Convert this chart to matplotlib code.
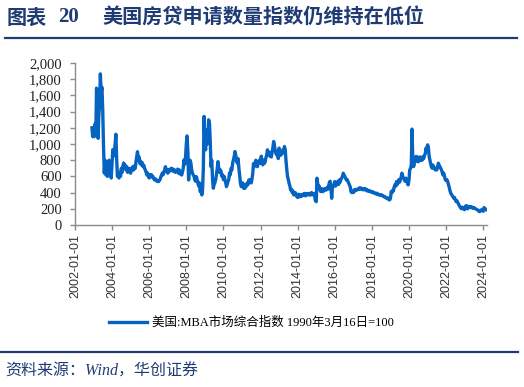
import numpy as np
import pandas as pd
import matplotlib
matplotlib.use('Agg')
import matplotlib.pyplot as plt
import matplotlib.dates as mdates
from matplotlib.lines import Line2D

# MBA market composite index at ~semimonthly steps (1st / 15th)
start_date = '2002-12-01'
index_values = [
    # 2002 (Dec)
    1200, 1090,
    # 2003
    1180, 1090, 1250, 1150, 1690, 1450, 1070, 1350, 1500, 1865, 1640, 1700,
    1420, 1000, 640, 800, 620, 780, 600, 700, 800, 620, 700, 580,
    # 2004
    760, 930, 850, 900, 1000, 1120, 800, 600, 640, 580, 650, 600,
    700, 650, 720, 765, 700, 740, 680, 720, 650, 680, 700, 660,
    # 2005
    640, 700, 680, 720, 680, 730, 700, 780, 850, 905, 800, 840,
    760, 790, 740, 770, 720, 740, 700, 680, 650, 620, 640, 600,
    # 2006
    580, 620, 600, 620, 590, 600, 570, 556, 570, 560, 540, 550,
    535, 545, 560, 590, 617, 640, 620, 650, 680, 720, 690, 660,
    # 2007
    640, 680, 660, 690, 680, 700, 670, 690, 660, 680, 650, 670,
    660, 690, 640, 680, 630, 660, 617, 650, 700, 803, 750, 820,
    # 2008
    1000, 1100, 900, 556, 700, 800, 760, 680, 640, 620, 600, 560,
    540, 597, 560, 520, 480, 520, 412, 450, 371, 430, 700, 1340,
    # 2009
    1000, 928, 1175, 1000, 1100, 1299, 1250, 1050, 721, 800, 560, 454,
    500, 520, 560, 618, 700, 783, 700, 650, 680, 659, 600, 620,
    # 2010
    560, 600, 556, 520, 474, 500, 540, 560, 643, 620, 700, 680,
    766, 800, 850, 907, 860, 800, 763, 820, 700, 620, 520, 474,
    # 2011
    480, 520, 454, 470, 454, 500, 480, 520, 500, 556, 540, 560,
    520, 560, 640, 760, 721, 750, 800, 740, 720, 780, 760, 804,
    # 2012
    760, 850, 780, 742, 800, 760, 780, 830, 860, 928, 880, 900,
    850, 880, 840, 900, 960, 1031, 980, 920, 880, 866, 900, 820,
    # 2013
    950, 880, 860, 900, 880, 928, 900, 969, 930, 800, 680, 600,
    560, 516, 480, 433, 440, 400, 420, 371, 390, 400, 371, 350,
    # 2014
    340, 380, 350, 371, 350, 370, 360, 380, 371, 390, 360, 380,
    371, 390, 380, 370, 390, 371, 400, 380, 371, 390, 360, 300,
    # 2015
    288, 578, 500, 454, 480, 430, 412, 450, 430, 412, 433, 450,
    430, 433, 460, 440, 480, 520, 540, 470, 330, 460, 480, 500,
    # 2016
    536, 480, 500, 520, 540, 500, 556, 530, 560, 580, 600, 639,
    620, 600, 580, 556, 560, 540, 520, 500, 470, 412, 400, 412,
    # 2017
    400, 433, 420, 440, 430, 433, 440, 454, 440, 460, 454, 440,
    450, 433, 440, 450, 433, 440, 420, 430, 420, 412, 420, 412,
    # 2018
    400, 412, 400, 392, 395, 392, 380, 392, 380, 371, 375, 371,
    365, 371, 360, 350, 355, 345, 340, 330, 335, 320, 330, 309,
    # 2019
    330, 412, 400, 430, 420, 470, 500, 480, 536, 500, 540, 560,
    530, 560, 597, 640, 600, 578, 560, 540, 578, 540, 520, 495,
    # 2020
    560, 680, 700, 740, 1184, 800, 722, 760, 820, 845, 790, 840,
    780, 804, 840, 800, 820, 800, 845, 820, 860, 880, 949, 920,
    # 2021
    990, 960, 845, 800, 760, 720, 701, 740, 720, 700, 680, 690,
    680, 720, 763, 740, 720, 700, 680, 650, 618, 640, 600, 560,
    # 2022
    550, 560, 536, 500, 470, 430, 392, 380, 360, 350, 330, 340,
    310, 290, 300, 280, 260, 240, 226, 210, 200, 220, 210, 195,
    # 2023
    190, 230, 240, 210, 200, 230, 226, 220, 215, 226, 210, 215,
    206, 210, 200, 195, 190, 185, 175, 165, 180, 175, 190, 185,
    # 2024 (Jan-Mar)
    170, 215, 206, 195, 185, 190,
]
tick_years = list(range(2002, 2025, 2))
y_ticks = list(range(0, 2001, 200))
title_num = '图表 20'
title_text = '美国房贷申请数量指数仍维持在低位'
legend_label = '美国:MBA市场综合指数 1990年3月16日=100'
source_text = '资料来源：Wind，华创证券'

navy = '#1f3b73'
line_blue = '#0563c1'
axis_gray = '#8c8c8c'

dates = pd.date_range(start_date, periods=len(index_values), freq='SMS')

W, H = 524, 387
fig = plt.figure(figsize=(W / 100, H / 100), dpi=100)
ax = fig.add_axes([75 / W, 1 - 225 / H, 412 / W, 162 / H])

line, = ax.plot(dates, index_values, color=line_blue, lw=2.4, solid_joinstyle='round')

ax.set_xlim(pd.Timestamp('2002-01-01'), dates[-1])
ax.set_ylim(0, 2000)
ax.set_yticks(y_ticks)
ax.set_yticklabels([f'{v:,}' for v in y_ticks], fontsize=10.5, family='Liberation Serif', color='#222222')
ax.set_xticks([pd.Timestamp(f'{y}-01-01') for y in tick_years])
ax.xaxis.set_major_formatter(mdates.DateFormatter('%Y-%m-%d'))
for lab in ax.get_xticklabels():
    lab.set_rotation(90)
    lab.set_fontsize(9)
    lab.set_family('Liberation Sans')
    lab.set_color('#333333')

for s in ['top', 'right']:
    ax.spines[s].set_visible(False)
for s in ['left', 'bottom']:
    ax.spines[s].set_color(axis_gray)
    ax.spines[s].set_linewidth(1.0)
ax.tick_params(axis='y', length=3.6, width=1.0, color=axis_gray, pad=6)
ax.tick_params(axis='x', length=3.6, width=1.0, color=axis_gray, pad=3)

# title
fig.text(7 / W, 1 - 17 / H, '图表', fontsize=14.5, fontweight='bold', color=navy,
         family=['Noto Sans CJK SC'], va='center', ha='left')
fig.text(58 / W, 1 - 17 / H, '20', fontsize=15, fontweight='bold', color=navy,
         family=['Liberation Serif'], va='center', ha='left')
fig.text(102 / W, 1 - 17 / H, title_text, fontsize=14.5, fontweight='bold', color=navy,
         family=['Noto Sans CJK SC'], va='center', ha='left')
fig.add_artist(Line2D([5 / W, 517 / W], [1 - 38 / H] * 2, color=navy, lw=1.6))

# legend
fig.legend([line], [legend_label], loc='center left', bbox_to_anchor=(104 / W, 1 - 323 / H),
           frameon=False, handlelength=3.0, handletextpad=0.4, borderaxespad=0,
           prop={'family': ['Liberation Serif', 'Noto Sans CJK SC'], 'size': 9})

# footer
fig.add_artist(Line2D([0, 518 / W], [1 - 352 / H] * 2, color=navy, lw=1.6))
fig.text(5 / W, 1 - 372 / H, source_text, fontsize=11.5, style='italic', color=navy,
         family=['Liberation Serif', 'Noto Sans CJK SC'], va='center', ha='left')

fig.savefig('out.png', dpi=100)
